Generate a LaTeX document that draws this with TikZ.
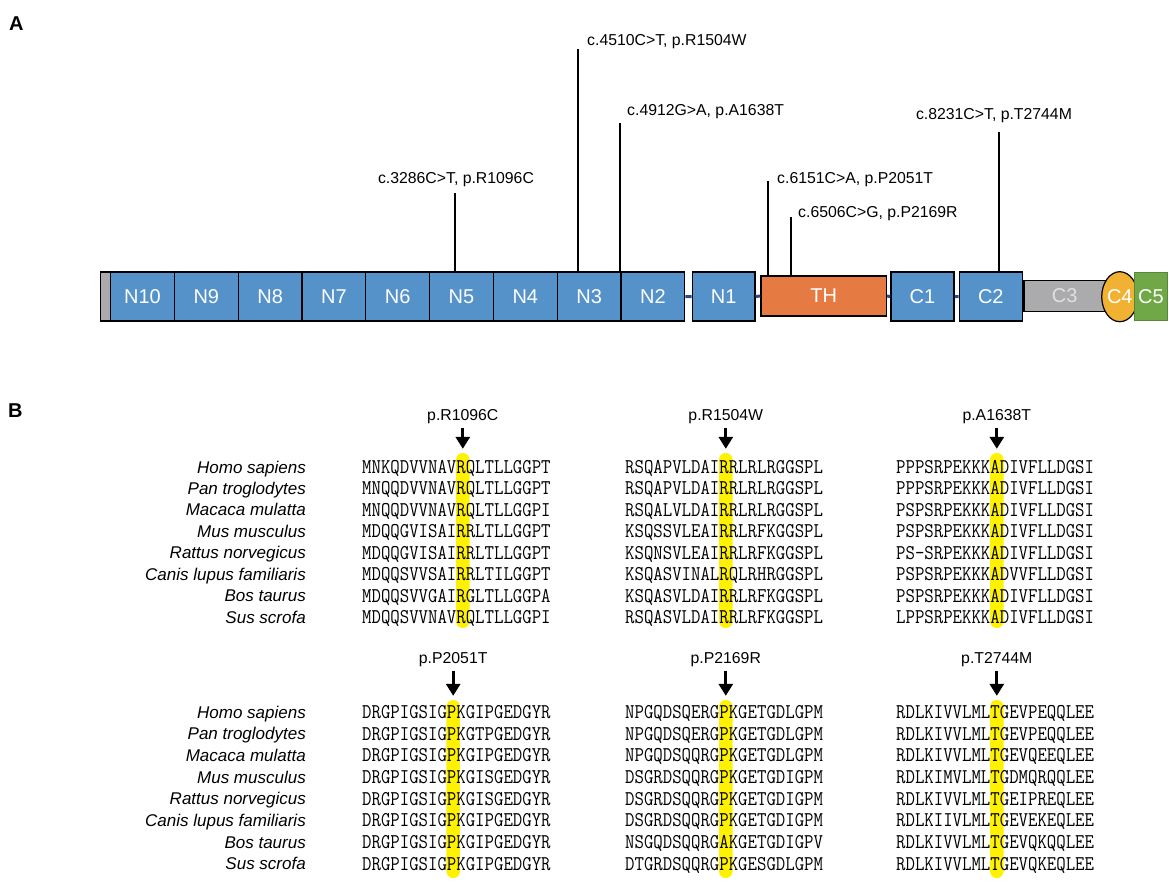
\documentclass[tikz,border=0pt]{standalone}
\usepackage{fontspec}
\usepackage{graphicx}
\setmainfont{Liberation Sans}
\usetikzlibrary{arrows.meta,shapes.geometric}
\definecolor{nblue}{RGB}{84,146,201}
\definecolor{thorange}{RGB}{229,123,66}
\definecolor{cgray}{RGB}{171,171,173}
\definecolor{cyellow}{RGB}{241,178,52}
\definecolor{cgreen}{RGB}{112,168,71}
\definecolor{linkblue}{RGB}{44,72,140}
\definecolor{hilite}{RGB}{255,242,0}
\newcommand{\narrowseq}[1]{\scalebox{0.871}[1]{#1}}
\tikzset{ %x=1pt per pixel, y downwards
  {domain/.style} ={draw=black, line width=1.2pt, fill=#1, text=white,
                    font=\fontsize{20}{22}\selectfont, minimum height=49pt,
                    inner sep=0, anchor=west},
  domain/.default = nblue,
  {nbox/.style} ={domain, minimum width=63.8pt},
  {mut/.style} ={font=\fontsize{15.8}{17}\selectfont, inner sep=0,
                 text height=11.3pt, text depth=0pt},
  {mutline/.style} ={draw, line width=1.8pt},
  {backbone/.style} ={draw=linkblue, line width=3pt},
  {seq/.style} ={font=\fontsize{21}{23}\selectfont\ttfamily,
                 inner sep=0, anchor=west, text height=12.8pt, text depth=0pt},
  {species/.style} ={font=\fontsize{17}{19}\selectfont\itshape, inner sep=0,
                     anchor=east, text height=12pt, text depth=0pt},
  {hl/.style} ={fill=hilite, rounded corners=6.5pt, minimum width=13.5pt, inner sep=0},
  {mutarrow/.style} ={line width=3.2pt, -{Triangle[width=14pt,length=12pt]}, shorten >=4pt},
  {panel/.style} ={font=\fontsize{20}{22}\selectfont\bfseries, inner sep=0,
                   anchor=west, text height=14.3pt, text depth=0pt},
}
\begin{document}
\begin{tikzpicture}[x=1pt,y=-1pt]
\useasboundingbox (0,0) rectangle (1169,881);
\node[panel] (pA) at (9,23) {A};
\node[panel] (pB) at (8,410) {B};

% domain structure
\node[domain=cgray, minimum width=10pt] (cap) at (100,296.5) {};
\foreach \n [count=\i from 0] in {10,9,...,2}
  \node[nbox] (N\n) at ({110+\i*63.8},296.5) {N\n};
\node[domain, minimum width=62.6pt] (N1) at (691.7,296.5) {N1};
\node[domain=thorange, minimum width=125.4pt, minimum height=40pt] (TH) at (760.3,296) {TH};
\node[domain, minimum width=63pt] (C1) at (890.3,296.5) {C1};
\node[domain, minimum width=63pt] (C2) at (958.7,296.5) {C2};
\node[domain=cgray, text=black!12, minimum width=81.7pt, minimum height=30.3pt] (C3) at (1023.3,296) {C3};
\node[domain=cyellow, ellipse, anchor=center, minimum width=27pt, minimum height=50pt] (C4) at (1119.8,296.7) {C4};
\node[domain=cgreen, draw=cgreen!80!black, minimum width=32.7pt, minimum height=48.4pt] (C5) at (1134,296.5) {C5};
\path[backbone] (N2.east) -- (N1.west) (N1.east) -- (TH.west)
                (TH.east) -- (C1.west) (C1.east) -- (C2.west);

% variants
\node[mut] (v1) at (456,178) {c.3286C>T, p.R1096C};
\node[mut,anchor=west] (v2) at (587,40) {c.4510C>T, p.R1504W};
\node[mut,anchor=west] (v3) at (627,110) {c.4912G>A, p.A1638T};
\node[mut,anchor=west] (v4) at (777,178) {c.6151C>A, p.P2051T};
\node[mut,anchor=west] (v5) at (798,212) {c.6506C>G, p.P2169R};
\node[mut] (v6) at (994,114) {c.8231C>T, p.T2744M};
\coordinate (t1) at (455,193);
\coordinate (t2) at (578,49);
\coordinate (t3) at (620,123);
\coordinate (t4) at (768,181);
\coordinate (t5) at (791,217);
\coordinate (t6) at (999,132);
\path[mutline] (t1) -- (t1 |- N5.north)
               (t2) -- (t2 |- N3.north)
               (t3) -- (t3 |- N2.north)
               (t4) -- (t4 |- TH.north)
               (t5) -- (t5 |- TH.north)
               (t6) -- (t6 |- C2.north);

% conservation
\node[hl, minimum height=175pt] (h1) at (462.8,540.5) {};
\node[hl, minimum height=175pt] (h2) at (725.8,540.5) {};
\node[hl, minimum height=175pt] (h3) at (996.8,540.5) {};
\node[hl, minimum height=178pt] (h4) at (453.2,789) {};
\node[hl, minimum height=178pt] (h5) at (725.8,789) {};
\node[hl, minimum height=178pt] (h6) at (996.8,789) {};
\node[mut] (q1) at (462.8,415) {p.R1096C};
\node[mut] (q2) at (725.8,415) {p.R1504W};
\node[mut] (q3) at (996.8,415) {p.A1638T};
\node[mut] (q4) at (453.2,658) {p.P2051T};
\node[mut] (q5) at (725.8,658) {p.P2169R};
\node[mut] (q6) at (996.8,658) {p.T2744M};
\foreach \k in {1,...,6}
  \draw[mutarrow] ([yshift=-7pt]q\k.south) -- (h\k.north);

\foreach \sp/\a/\b/\c [count=\i from 0] in {
  Homo sapiens/MNKQDVVNAVRQLTLLGGPT/RSQAPVLDAIRRLRLRGGSPL/PPPSRPEKKKADIVFLLDGSI,
  Pan troglodytes/MNQQDVVNAVRQLTLLGGPT/RSQAPVLDAIRRLRLRGGSPL/PPPSRPEKKKADIVFLLDGSI,
  Macaca mulatta/MNQQDVVNAVRQLTLLGGPI/RSQALVLDAIRRLRLRGGSPL/PSPSRPEKKKADIVFLLDGSI,
  Mus musculus/MDQQGVISAIRRLTLLGGPT/KSQSSVLEAIRRLRFKGGSPL/PSPSRPEKKKADIVFLLDGSI,
  Rattus norvegicus/MDQQGVISAIRRLTLLGGPT/KSQNSVLEAIRRLRFKGGSPL/PS-SRPEKKKADIVFLLDGSI,
  Canis lupus familiaris/MDQQSVVSAIRRLTILGGPT/KSQASVINALRQLRHRGGSPL/PSPSRPEKKKADVVFLLDGSI,
  Bos taurus/MDQQSVVGAIRGLTLLGGPA/KSQASVLDAIRRLRFKGGSPL/PSPSRPEKKKADIVFLLDGSI,
  Sus scrofa/MDQQSVVNAVRQLTLLGGPI/RSQASVLDAIRRLRFKGGSPL/LPPSRPEKKKADIVFLLDGSI} {
  \node[species] (sa\i) at (306,{467+21.45*\i}) {\sp};
  \node[seq] (ra\i) at (362,{467+21.45*\i}) {\narrowseq{\a}};
  \node[seq] (rb\i) at (625,{467+21.45*\i}) {\narrowseq{\b}};
  \node[seq] (rc\i) at (896,{467+21.45*\i}) {\narrowseq{\c}};
}
\foreach \sp/\a/\b/\c [count=\i from 0] in {
  Homo sapiens/DRGPIGSIGPKGIPGEDGYR/NPGQDSQERGPKGETGDLGPM/RDLKIVVLMLTGEVPEQQLEE,
  Pan troglodytes/DRGPIGSIGPKGTPGEDGYR/NPGQDSQERGPKGETGDLGPM/RDLKIVVLMLTGEVPEQQLEE,
  Macaca mulatta/DRGPIGSIGPKGIPGEDGYR/NPGQDSQQRGPKGETGDLGPM/RDLKIVVLMLTGEVQEEQLEE,
  Mus musculus/DRGPIGSIGPKGISGEDGYR/DSGRDSQQRGPKGETGDIGPM/RDLKIMVLMLTGDMQRQQLEE,
  Rattus norvegicus/DRGPIGSIGPKGISGEDGYR/DSGRDSQQRGPKGETGDIGPM/RDLKIVVLMLTGEIPREQLEE,
  Canis lupus familiaris/DRGPIGSIGPKGIPGEDGYR/DSGRDSQQRGPKGETGDIGPM/RDLKIIVLMLTGEVEKEQLEE,
  Bos taurus/DRGPIGSIGPKGIPGEDGYR/NSGQDSQQRGAKGETGDIGPV/RDLKIVVLMLTGEVQKQQLEE,
  Sus scrofa/DRGPIGSIGPKGIPGEDGYR/DTGRDSQQRGPKGESGDLGPM/RDLKIVVLMLTGEVQKEQLEE} {
  \node[species] (sd\i) at (306,{712+21.7*\i}) {\sp};
  \node[seq] (rd\i) at (362,{712+21.7*\i}) {\narrowseq{\a}};
  \node[seq] (re\i) at (625,{712+21.7*\i}) {\narrowseq{\b}};
  \node[seq] (rf\i) at (896,{712+21.7*\i}) {\narrowseq{\c}};
}
\end{tikzpicture}
\end{document}
